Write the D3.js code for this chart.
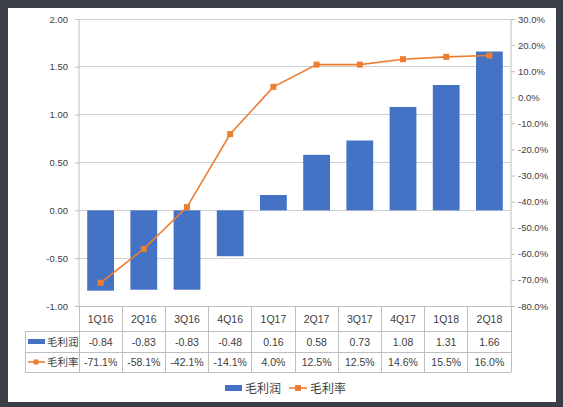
<!DOCTYPE html>
<html><head><meta charset="utf-8">
<script src="https://cdn.jsdelivr.net/npm/d3@7"></script>
<style>
html,body{margin:0;padding:0;background:#3b3e46;}
svg{display:block;}
text{font-family:"Liberation Sans","Noto Sans CJK SC",sans-serif;}
</style></head><body>
<svg id="c" width="563" height="407"></svg>
<script>
const categories = ["1Q16","2Q16","3Q16","4Q16","1Q17","2Q17","3Q17","4Q17","1Q18","2Q18"];
const profit = [-0.84,-0.83,-0.83,-0.48,0.16,0.58,0.73,1.08,1.31,1.66];
const margin = [-71.1,-58.1,-42.1,-14.1,4.0,12.5,12.5,14.6,15.5,16.0];
const leftTicks = [-1.0,-0.5,0,0.5,1.0,1.5,2.0];
const rightTicks = [-80,-70,-60,-50,-40,-30,-20,-10,0,10,20,30];
const seriesNames = ["毛利润","毛利率"];

const hy = s => s.replace(/\u2212/g,"-");
const f2 = d => hy(d3.format(".2f")(d));
const fp = d => hy(d3.format(".1f")(d)) + "%";

const blue = "#4472C4", orange = "#ED7D31", txt = "#404040", grid = "#d0d0d0", axisC = "#bfbfbf";
const svg = d3.select("#c");
svg.append("rect").attr("x",8).attr("y",8).attr("width",548).attr("height",394).attr("fill","#fff");

const L = 79, R = 511, T = 19, B = 306;
const x = d3.scaleBand().domain(categories).range([L,R]).paddingInner(0.38).paddingOuter(0.19);
const xc = d3.scaleBand().domain(categories).range([L,R]);
const y = d3.scaleLinear().domain([-1,2]).range([B,T]);
const y2 = d3.scaleLinear().domain([-80,30]).range([B,T]);

// gridlines
svg.append("g").selectAll("line").data(leftTicks.filter(d=>d>-1)).join("line")
  .attr("x1",L).attr("x2",R).attr("y1",d=>y(d)).attr("y2",d=>y(d))
  .attr("stroke",grid).attr("stroke-width",1).attr("shape-rendering","crispEdges");

// left axis
const ga = svg.append("g").attr("transform",`translate(${L},0)`)
  .call(d3.axisLeft(y).tickValues(leftTicks).tickFormat(f2).tickSize(4).tickPadding(7));
ga.select(".domain").attr("stroke",axisC).attr("d",`M-0,${T}V${B}`);
ga.selectAll(".tick line").attr("stroke",axisC);
ga.selectAll("text").attr("fill",txt).attr("font-size",9.5);

// right axis
const gr = svg.append("g").attr("transform",`translate(${R},0)`)
  .call(d3.axisRight(y2).tickValues(rightTicks).tickFormat(fp).tickSize(4).tickPadding(3));
gr.select(".domain").attr("stroke",axisC).attr("d",`M0,${T}V${B}`);
gr.selectAll(".tick line").attr("stroke",axisC);
gr.selectAll("text").attr("fill",txt).attr("font-size",9.5);

// bars
svg.append("g").selectAll("rect").data(profit).join("rect")
  .attr("x",(d,i)=>x(categories[i])).attr("width",x.bandwidth())
  .attr("y",d=>y(Math.max(0,d))).attr("height",d=>Math.abs(y(d)-y(0)))
  .attr("fill",blue);

// line
const cx = i => xc(categories[i]) + xc.bandwidth()/2;
svg.append("path").datum(margin)
  .attr("d",d3.line().x((d,i)=>cx(i)).y(d=>y2(d)))
  .attr("fill","none").attr("stroke",orange).attr("stroke-width",1.6);
svg.append("g").selectAll("rect").data(margin).join("rect")
  .attr("x",(d,i)=>cx(i)-3).attr("y",d=>y2(d)-3).attr("width",6).attr("height",6).attr("fill",orange);

// data table
const rowY = [306,331,352,372];
const tbl = svg.append("g").attr("stroke",axisC).attr("shape-rendering","crispEdges");
tbl.append("line").attr("x1",L).attr("x2",R).attr("y1",rowY[0]).attr("y2",rowY[0]);
tbl.append("line").attr("x1",25).attr("x2",R).attr("y1",rowY[1]).attr("y2",rowY[1]);
tbl.append("line").attr("x1",25).attr("x2",R).attr("y1",rowY[2]).attr("y2",rowY[2]);
tbl.append("line").attr("x1",25).attr("x2",R).attr("y1",rowY[3]).attr("y2",rowY[3]);
tbl.append("line").attr("x1",25).attr("x2",25).attr("y1",rowY[1]).attr("y2",rowY[3]);
tbl.selectAll(".v").data(categories.concat(["end"])).join("line")
  .attr("x1",(d,i)=>L+i*xc.step()).attr("x2",(d,i)=>L+i*xc.step())
  .attr("y1",rowY[0]).attr("y2",rowY[3]);

const fs = 10.5;
svg.append("g").selectAll("text").data(categories).join("text")
  .attr("x",(d,i)=>cx(i)).attr("y",(rowY[0]+rowY[1])/2+4).attr("text-anchor","middle")
  .attr("font-size",fs).attr("fill",txt).text(d=>d);
svg.append("g").selectAll("text").data(profit).join("text")
  .attr("x",(d,i)=>cx(i)).attr("y",(rowY[1]+rowY[2])/2+4).attr("text-anchor","middle")
  .attr("font-size",fs).attr("fill",txt).text(f2);
svg.append("g").selectAll("text").data(margin).join("text")
  .attr("x",(d,i)=>cx(i)).attr("y",(rowY[2]+rowY[3])/2+4).attr("text-anchor","middle")
  .attr("font-size",fs).attr("fill",txt).text(fp);

// table legend keys
svg.append("rect").attr("x",28).attr("y",339).attr("width",17).attr("height",5).attr("fill",blue);
svg.append("text").attr("x",47).attr("y",(rowY[1]+rowY[2])/2+4).attr("font-size",fs).attr("fill",txt)
  .attr("font-family","Noto Sans CJK SC").text(seriesNames[0]);
svg.append("line").attr("x1",28).attr("x2",45).attr("y1",362).attr("y2",362).attr("stroke",orange).attr("stroke-width",1.6);
svg.append("rect").attr("x",33.5).attr("y",359.5).attr("width",5).attr("height",5).attr("fill",orange);
svg.append("text").attr("x",47).attr("y",(rowY[2]+rowY[3])/2+4).attr("font-size",fs).attr("fill",txt)
  .attr("font-family","Noto Sans CJK SC").text(seriesNames[1]);

// bottom legend
const ly = 388;
svg.append("rect").attr("x",225).attr("y",ly-3).attr("width",17).attr("height",6).attr("fill",blue);
svg.append("text").attr("x",245).attr("y",ly+4.5).attr("font-size",12).attr("fill",txt)
  .attr("font-family","Noto Sans CJK SC").text(seriesNames[0]);
svg.append("line").attr("x1",289).attr("x2",307).attr("y1",ly).attr("y2",ly).attr("stroke",orange).attr("stroke-width",1.6);
svg.append("rect").attr("x",295).attr("y",ly-3).attr("width",6).attr("height",6).attr("fill",orange);
svg.append("text").attr("x",310).attr("y",ly+4.5).attr("font-size",12).attr("fill",txt)
  .attr("font-family","Noto Sans CJK SC").text(seriesNames[1]);
</script>
</body></html>
